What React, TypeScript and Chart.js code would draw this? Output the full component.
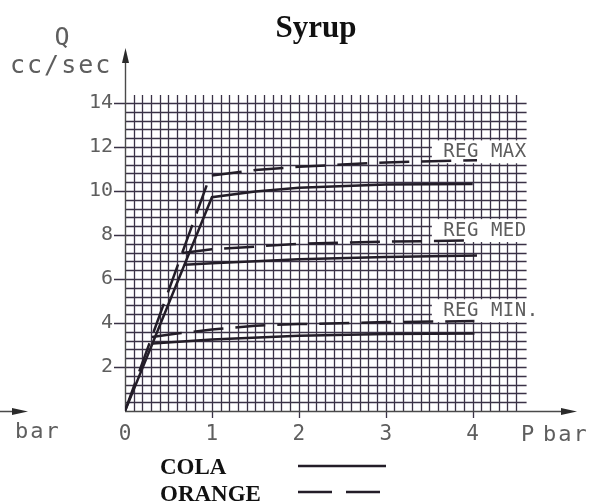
import React, { useEffect, useRef } from 'react';
import { Chart, registerables } from 'chart.js';
Chart.register(...registerables);

// ---- text ----
const TITLE = 'Syrup';
const Y_TITLE_TOP = 'Q';
const Y_TITLE_UNIT = 'cc/sec';
const LEGEND_LABELS = ['COLA', 'ORANGE'];
const REG_LABELS = ['REG MAX', 'REG MED', 'REG MIN.'];
const REG_LABEL_Y = [11.78, 8.2, 4.56];
const REG_LABEL_X = 3.66;

// ---- ticks ----
const X_TICK_LABELS = [0, 1, 2, 3, 4];
const Y_TICK_LABELS = [2, 4, 6, 8, 10, 12, 14];

// ---- series (P bar, Q cc/sec) ----
const colaMaxX = [0, 1.0, 1.5, 2, 3, 4.0];
const colaMaxY = [0, 9.72, 9.98, 10.15, 10.3, 10.32];
const colaMedX = [0.685, 1, 2, 3, 4.05];
const colaMedY = [6.65, 6.72, 6.9, 7.0, 7.07];
const colaMinX = [0.32, 1, 2, 3, 4.02];
const colaMinY = [3.07, 3.25, 3.42, 3.5, 3.52];

const orangeMaxX = [0, 0.98, 1.5, 2, 3, 4.05];
const orangeMaxY = [0, 10.7, 10.95, 11.1, 11.3, 11.4];
const orangeMedX = [0.66, 1, 2, 3, 4.0];
const orangeMedY = [7.18, 7.35, 7.6, 7.7, 7.75];
const orangeMinX = [0.31, 0.6, 1, 1.5, 2, 3, 4.02];
const orangeMinY = [3.36, 3.52, 3.7, 3.88, 3.95, 4.04, 4.09];

const pts = (xs: number[], ys: number[]) => xs.map((x, i) => ({ x, y: ys[i] }));

const LINE_COLOR = '#231d28';
const GRID_COLOR = '#3a3246';
const TEXT_GRAY = '#5e5e5e';
const MONO = '"DejaVu Sans Mono", monospace';
const SERIF = '"Liberation Serif", "Times New Roman", serif';
const ORANGE_DASH = [30, 12];

const decorPlugin = {
  id: 'decor',
  beforeDatasetsDraw(chart: any) {
    const { ctx } = chart;
    const xs = chart.scales.x;
    const ys = chart.scales.y;
    const px = (v: number) => xs.getPixelForValue(v);
    const py = (v: number) => ys.getPixelForValue(v);
    const r = (v: number) => Math.round(v) + 0.5;
    ctx.save();
    // grid
    ctx.strokeStyle = GRID_COLOR;
    ctx.lineWidth = 1.3;
    ctx.beginPath();
    for (let i = 1; i <= 45; i++) {
      const x = r(px(i * 0.1));
      ctx.moveTo(x, py(0));
      ctx.lineTo(x, py(14.36));
    }
    for (let j = 1; j <= 35; j++) {
      const y = r(py(j * 0.4));
      ctx.moveTo(px(0), y);
      ctx.lineTo(px(4.62), y);
    }
    ctx.stroke();
    // tick marks
    ctx.beginPath();
    Y_TICK_LABELS.forEach((v) => {
      const y = r(py(v));
      ctx.moveTo(px(0) - 11, y);
      ctx.lineTo(px(0), y);
    });
    X_TICK_LABELS.forEach((v) => {
      if (v === 0) return;
      const x = r(px(v));
      ctx.moveTo(x, py(0));
      ctx.lineTo(x, py(0) + 7);
    });
    ctx.stroke();
    // axes
    ctx.strokeStyle = '#4a4a4a';
    ctx.lineWidth = 1.4;
    ctx.beginPath();
    ctx.moveTo(r(px(0)), py(0));
    ctx.lineTo(r(px(0)), py(16.5) + 8);
    ctx.moveTo(px(0), r(py(0)));
    ctx.lineTo(px(5.2) - 8, r(py(0)));
    // left cut-off axis
    ctx.moveTo(0, r(py(0)));
    ctx.lineTo(18, r(py(0)));
    ctx.stroke();
    ctx.fillStyle = '#2a2a2a';
    const ax = r(px(0));
    const at = py(16.5);
    ctx.beginPath();
    ctx.moveTo(ax, at);
    ctx.lineTo(ax - 3.5, at + 15);
    ctx.lineTo(ax + 3.5, at + 15);
    ctx.closePath();
    ctx.fill();
    const ay = r(py(0));
    const ar = px(5.2);
    ctx.beginPath();
    ctx.moveTo(ar, ay);
    ctx.lineTo(ar - 16, ay - 3.5);
    ctx.lineTo(ar - 16, ay + 3.5);
    ctx.closePath();
    ctx.fill();
    ctx.beginPath();
    ctx.moveTo(28, ay);
    ctx.lineTo(12, ay - 3.5);
    ctx.lineTo(12, ay + 3.5);
    ctx.closePath();
    ctx.fill();
    // label boxes
    ctx.fillStyle = '#ffffff';
    REG_LABEL_Y.forEach((v) => {
      const x0 = px(3.53);
      const x1 = px(4.7);
      const y0 = py(v + 0.52);
      const y1 = py(v - 0.52);
      ctx.fillRect(x0, y0, x1 - x0, y1 - y0);
    });
    ctx.restore();
  },
  afterDraw(chart: any) {
    const { ctx } = chart;
    const xs = chart.scales.x;
    const ys = chart.scales.y;
    const px = (v: number) => xs.getPixelForValue(v);
    const py = (v: number) => ys.getPixelForValue(v);
    ctx.save();
    // reg labels
    ctx.fillStyle = TEXT_GRAY;
    ctx.font = `19px ${MONO}`;
    ctx.textBaseline = 'middle';
    ctx.textAlign = 'left';
    (ctx as any).letterSpacing = '0.5px';
    REG_LABELS.forEach((t, i) => ctx.fillText(t, px(REG_LABEL_X), py(REG_LABEL_Y[i])));
    // y title
    ctx.textBaseline = 'alphabetic';
    ctx.font = `25px ${MONO}`;
    (ctx as any).letterSpacing = '2px';
    ctx.textAlign = 'center';
    ctx.fillText(Y_TITLE_TOP, 63, 45);
    ctx.textAlign = 'left';
    ctx.fillText(Y_TITLE_UNIT, 10, 73);
    // x title (right) and cut-off one (left)
    ctx.font = `22px ${MONO}`;
    (ctx as any).letterSpacing = '2px';
    ctx.fillText('P', 521, 441);
    ctx.fillText('bar', 543, 441);
    ctx.fillText('P', -13, 438);
    ctx.fillText('bar', 15, 438);
    (ctx as any).letterSpacing = '0px';
    // title
    ctx.fillStyle = '#111';
    ctx.font = `bold 31px ${SERIF}`;
    ctx.textAlign = 'center';
    ctx.fillText(TITLE, 316, 37);
    // legend
    ctx.textAlign = 'left';
    ctx.font = `bold 23px ${SERIF}`;
    ctx.fillText(LEGEND_LABELS[0], 160, 474);
    ctx.fillText(LEGEND_LABELS[1], 160, 501);
    ctx.strokeStyle = LINE_COLOR;
    ctx.lineWidth = 2.5;
    ctx.beginPath();
    ctx.moveTo(298, 466);
    ctx.lineTo(386, 466);
    ctx.stroke();
    ctx.setLineDash([34, 14]);
    ctx.beginPath();
    ctx.moveTo(298, 492);
    ctx.lineTo(387, 492);
    ctx.stroke();
    ctx.restore();
  },
};

export default function App() {
  const ref = useRef<HTMLCanvasElement>(null);
  useEffect(() => {
    document.body.style.margin = '0';
    const mk = (label: string, data: any[], dash: number[]) => ({
      label,
      data,
      borderColor: LINE_COLOR,
      borderWidth: 2.5,
      borderDash: dash,
      pointRadius: 0,
      tension: 0,
      fill: false,
    });
    const chart = new Chart(ref.current!, {
      type: 'line',
      data: {
        datasets: [
          mk('COLA MAX', pts(colaMaxX, colaMaxY), []),
          mk('COLA MED', pts(colaMedX, colaMedY), []),
          mk('COLA MIN', pts(colaMinX, colaMinY), []),
          mk('ORANGE MAX', pts(orangeMaxX, orangeMaxY), ORANGE_DASH),
          mk('ORANGE MED', pts(orangeMedX, orangeMedY), ORANGE_DASH),
          mk('ORANGE MIN', pts(orangeMinX, orangeMinY), ORANGE_DASH),
        ],
      },
      options: {
        animation: false,
        responsive: false,
        layout: { padding: { left: 0, right: 17, top: 48, bottom: 0 } },
        plugins: { legend: { display: false }, title: { display: false }, tooltip: { enabled: false } },
        scales: {
          x: {
            type: 'linear',
            min: 0,
            max: 5.2,
            afterFit: (s: any) => { s.height = 91; },
            grid: { display: false, drawTicks: false },
            border: { display: false },
            ticks: {
              stepSize: 1,
              autoSkip: false,
              maxRotation: 0,
              padding: 11,
              color: TEXT_GRAY,
              font: { family: MONO, size: 21 },
              callback: (v: any) => (X_TICK_LABELS.includes(Number(v)) ? String(v) : ''),
            },
          },
          y: {
            type: 'linear',
            min: 0,
            max: 16.5,
            afterFit: (s: any) => { s.width = 125; },
            grid: { display: false, drawTicks: false },
            border: { display: false },
            ticks: {
              stepSize: 2,
              autoSkip: false,
              padding: 12,
              color: TEXT_GRAY,
              font: { family: MONO, size: 20 },
              callback: (v: any) => (Y_TICK_LABELS.includes(Number(v)) ? String(v) : ''),
            },
          },
        },
      },
      plugins: [decorPlugin],
    });
    return () => chart.destroy();
  }, []);
  return (
    <div style={{ width: 594, height: 502, position: 'relative' }}>
      <canvas ref={ref} width={594} height={502} style={{ display: 'block' }} />
    </div>
  );
}
